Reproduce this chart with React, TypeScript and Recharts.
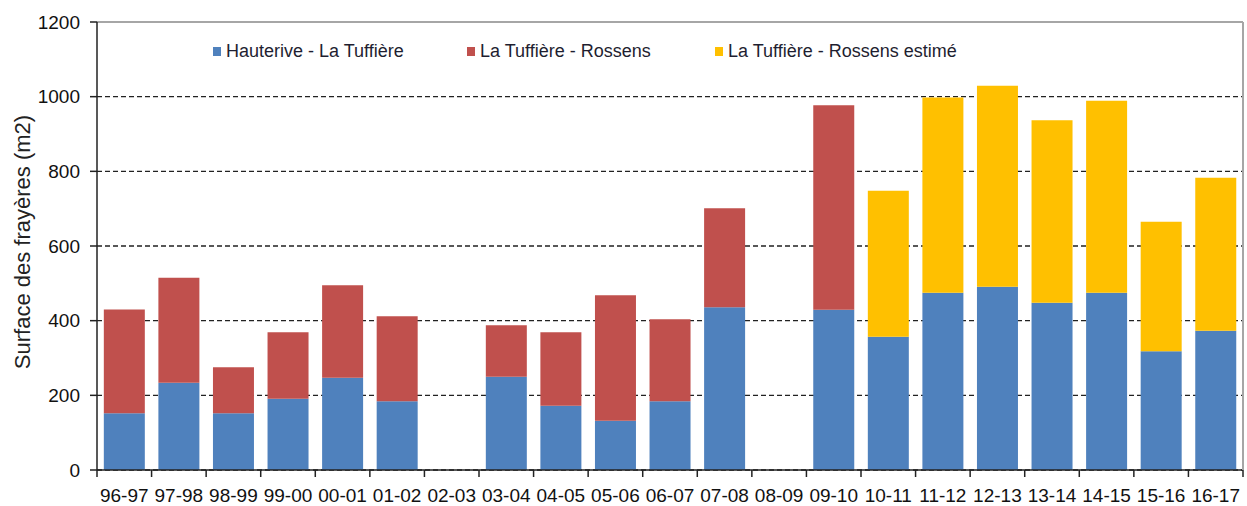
import { BarChart, Bar, XAxis, YAxis, CartesianGrid, ReferenceLine } from 'recharts';

const seasons = [
  '96-97', '97-98', '98-99', '99-00', '00-01', '01-02', '02-03', '03-04', '04-05', '05-06', '06-07',
  '07-08', '08-09', '09-10', '10-11', '11-12', '12-13', '13-14', '14-15', '15-16', '16-17',
];

// Hauterive - La Tuffière
const hauterive = [152, 234, 152, 191, 247, 184, null, 250, 172, 132, 184, 436, null, 429, 357, 475, 491, 448, 475, 318, 373];
// La Tuffière - Rossens (measured)
const rossens = [278, 281, 123, 178, 248, 228, null, 138, 197, 336, 220, 265, null, 548, null, null, null, null, null, null, null];
// La Tuffière - Rossens (estimated)
const rossensEstime = [null, null, null, null, null, null, null, null, null, null, null, null, null, null, 391, 523, 538, 489, 514, 347, 410];

const yTicks = [0, 200, 400, 600, 800, 1000, 1200];

const seriesNames = ['Hauterive - La Tuffière', 'La Tuffière - Rossens', 'La Tuffière - Rossens estimé'];
const COLORS = ['#4F81BD', '#C0504D', '#FFC000'];

const data = seasons.map((s, i) => ({
  season: s,
  hauterive: hauterive[i],
  rossens: rossens[i],
  estime: rossensEstime[i],
}));

const FONT = '"Liberation Sans", Arial, sans-serif';
const WIDTH = 1247;
const HEIGHT = 506;
const LEFT_AXIS_W = 97;
const RIGHT_AXIS_W = 4;
const BAND = (WIDTH - LEFT_AXIS_W - RIGHT_AXIS_W) / seasons.length;
const TICK_LEN = 7;

const XTick = (props: any) => {
  const { x, y, payload, index } = props;
  const axisY = y - TICK_LEN;
  const half = BAND / 2;
  return (
    <g>
      <line x1={x - half} x2={x - half} y1={axisY} y2={axisY + TICK_LEN} stroke="#222" strokeWidth={1.5} />
      {index === seasons.length - 1 && (
        <line x1={x + half} x2={x + half} y1={axisY} y2={axisY + TICK_LEN} stroke="#222" strokeWidth={1.5} />
      )}
      <text x={x} y={axisY + 32} textAnchor="middle" fill="#111" fontSize={19} fontFamily={FONT}>
        {payload.value}
      </text>
    </g>
  );
};

const YLabel = (props: any) => {
  const vb = props.viewBox || { x: 0, y: 22, width: LEFT_AXIS_W, height: 448 };
  const cx = vb.x + 22;
  const cy = vb.y + vb.height / 2 - 4;
  return (
    <text
      x={cx}
      y={cy}
      transform={`rotate(-90 ${cx} ${cy})`}
      textAnchor="middle"
      dominantBaseline="central"
      fill="#222"
      fontSize={22}
      fontFamily={FONT}
    >
      Surface des frayères (m2)
    </text>
  );
};

const ChartLegend = () => (
  <div
    style={{
      position: 'absolute',
      top: 41,
      left: 213,
      display: 'flex',
      fontFamily: FONT,
      fontSize: 18,
      color: '#1e1e30',
      lineHeight: '20px',
    }}
  >
    {seriesNames.map((name, i) => (
      <div key={name} style={{ display: 'flex', alignItems: 'center', width: i === 0 ? 254 : i === 1 ? 248 : 300 }}>
        <span style={{ display: 'inline-block', width: 8, height: 9, background: COLORS[i], marginRight: 5 }} />
        <span>{name}</span>
      </div>
    ))}
  </div>
);

const App = () => {
  return (
    <div style={{ position: 'absolute', left: 0, top: 0, width: WIDTH, height: HEIGHT, background: '#fff' }}>
      <BarChart
        width={WIDTH}
        height={HEIGHT}
        data={data}
        margin={{ top: 22, right: 0, bottom: 0, left: 0 }}
        barCategoryGap="12.5%"
      >
        <CartesianGrid vertical={false} stroke="#222" strokeWidth={1.3} strokeDasharray="5 3" />
        <XAxis
          dataKey="season"
          height={36}
          interval={0}
          tickLine={false}
          tickSize={TICK_LEN}
          tickMargin={0}
          axisLine={{ stroke: '#222', strokeWidth: 1.5 }}
          tick={<XTick />}
        />
        <YAxis
          width={LEFT_AXIS_W}
          domain={[0, 1200]}
          ticks={yTicks}
          interval={0}
          tickSize={TICK_LEN}
          tickMargin={10}
          tickLine={{ stroke: '#222', strokeWidth: 1.5 }}
          axisLine={{ stroke: '#222', strokeWidth: 1.5 }}
          tick={{ fill: '#111', fontSize: 19, fontFamily: FONT }}
          label={(p: any) => <YLabel {...p} />}
        />
        <YAxis
          yAxisId="right"
          orientation="right"
          width={RIGHT_AXIS_W}
          domain={[0, 1200]}
          tick={false}
          tickLine={false}
          axisLine={{ stroke: '#a6a6a6', strokeWidth: 2 }}
        />
        <ReferenceLine y={1200} stroke="#a6a6a6" strokeWidth={2} />
        <Bar dataKey="hauterive" name={seriesNames[0]} stackId="a" fill={COLORS[0]} isAnimationActive={false} />
        <Bar dataKey="rossens" name={seriesNames[1]} stackId="a" fill={COLORS[1]} isAnimationActive={false} />
        <Bar dataKey="estime" name={seriesNames[2]} stackId="a" fill={COLORS[2]} isAnimationActive={false} />
      </BarChart>
      <ChartLegend />
    </div>
  );
};

export default App;
